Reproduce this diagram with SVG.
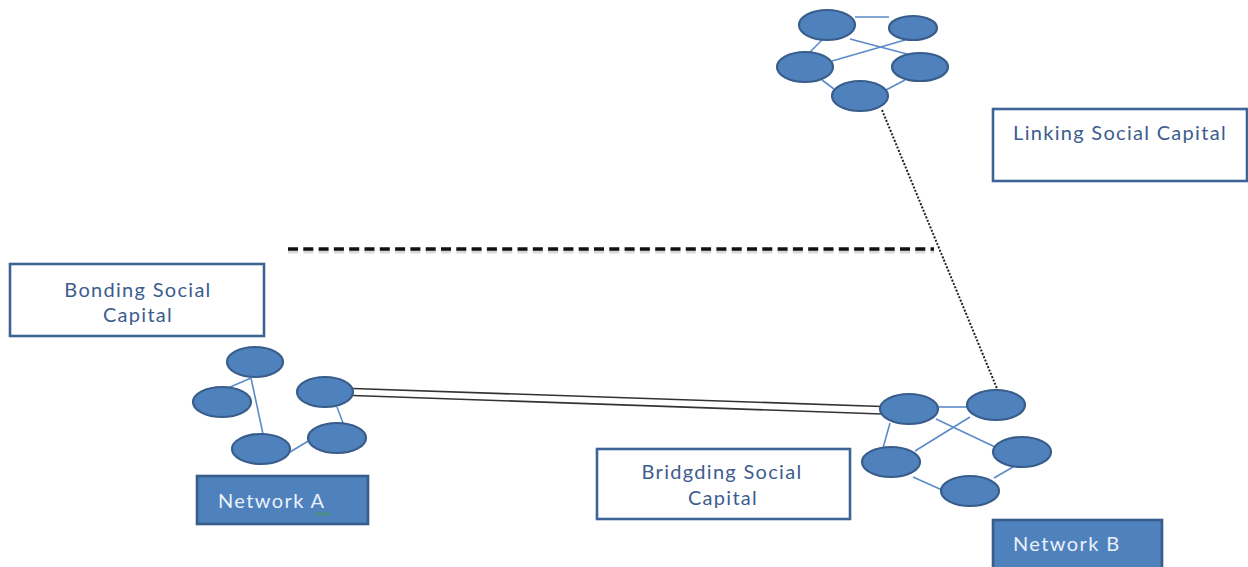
<svg xmlns="http://www.w3.org/2000/svg" width="1248" height="567" viewBox="0 0 1248 567">
<style>
.node{fill:#4F81BD;stroke:#385D8A;stroke-width:2.2}
.edge{stroke:#5B8BC9;stroke-width:1.6;fill:none}
.box{fill:#FFFFFF;stroke:#3E6496;stroke-width:2.6}
.nbox{fill:#4F81BD;stroke:#385D8A;stroke-width:2.6}
.lbl{font-family:Lato,"Open Sans",sans-serif;font-size:20px;letter-spacing:1.3px;fill:#3D5C8F}
.nlbl{font-family:Lato,"Open Sans",sans-serif;font-size:20px;letter-spacing:1.4px;fill:#EAF1F9}
</style>
<rect width="1248" height="567" fill="#FFFFFF"/>

<g id="connectors">
  <!-- horizontal dashed divider -->
  <line x1="288" y1="251.5" x2="934" y2="251.5" stroke="#000" stroke-opacity="0.15" stroke-width="4" stroke-dasharray="10 5.3"/>
  <line x1="288" y1="249" x2="934" y2="249" stroke="#111" stroke-width="3.5" stroke-dasharray="10 5.3"/>
  <!-- linking dotted line -->
  <line x1="882" y1="110" x2="998" y2="391" stroke="#222" stroke-width="2" stroke-dasharray="2 1.6"/>
  <!-- bridging double line -->
  <line x1="353" y1="388.5" x2="882" y2="406.5" stroke="#333" stroke-width="1.6"/>
  <line x1="353" y1="395.5" x2="882" y2="414" stroke="#333" stroke-width="1.6"/>
  <!-- network top edges -->
  <line class="edge" x1="855" y1="17" x2="889" y2="17"/>
  <line class="edge" x1="822" y1="40" x2="810" y2="52"/>
  <line class="edge" x1="850" y1="39" x2="907" y2="54"/>
  <line class="edge" x1="905" y1="40" x2="832" y2="61"/>
  <line class="edge" x1="822" y1="80" x2="834" y2="89"/>
  <line class="edge" x1="905" y1="80" x2="886" y2="90"/>
  <!-- network A edges -->
  <line class="edge" x1="251" y1="378" x2="228" y2="388"/>
  <line class="edge" x1="251" y1="378" x2="263" y2="434"/>
  <line class="edge" x1="337" y1="407" x2="343" y2="423"/>
  <line class="edge" x1="290" y1="452" x2="310" y2="440"/>
  <!-- network B edges -->
  <line class="edge" x1="938" y1="407" x2="967" y2="407"/>
  <line class="edge" x1="890" y1="423" x2="883" y2="448"/>
  <line class="edge" x1="936" y1="419" x2="995" y2="447"/>
  <line class="edge" x1="970" y1="417" x2="915" y2="451"/>
  <line class="edge" x1="913" y1="477" x2="942" y2="490"/>
  <line class="edge" x1="1013" y1="467" x2="994" y2="478"/>
</g>

<g id="top-network">
  <ellipse class="node" cx="827" cy="25" rx="28" ry="15"/>
  <ellipse class="node" cx="913" cy="28" rx="24" ry="12"/>
  <ellipse class="node" cx="805" cy="67" rx="28" ry="15"/>
  <ellipse class="node" cx="920" cy="67" rx="28" ry="14"/>
  <ellipse class="node" cx="860" cy="96" rx="28" ry="15"/>
</g>

<g id="network-a-nodes">
  <ellipse class="node" cx="255" cy="362" rx="28" ry="15"/>
  <ellipse class="node" cx="222" cy="402" rx="29" ry="15"/>
  <ellipse class="node" cx="325" cy="392" rx="28" ry="15"/>
  <ellipse class="node" cx="261" cy="449" rx="29" ry="15"/>
  <ellipse class="node" cx="337" cy="438" rx="29" ry="15"/>
</g>

<g id="network-b-nodes">
  <ellipse class="node" cx="909" cy="409" rx="29" ry="15"/>
  <ellipse class="node" cx="996" cy="405" rx="29" ry="15"/>
  <ellipse class="node" cx="1022" cy="452" rx="29" ry="15"/>
  <ellipse class="node" cx="891" cy="462" rx="29" ry="15"/>
  <ellipse class="node" cx="970" cy="491" rx="29" ry="15"/>
</g>

<g id="linking-box">
  <rect class="box" x="993" y="109" width="254" height="72"/>
  <text class="lbl" x="1120" y="140" text-anchor="middle">Linking Social Capital</text>
</g>

<g id="bonding-box">
  <rect class="box" x="10" y="264" width="254" height="72"/>
  <text class="lbl" x="138" y="297" text-anchor="middle">Bonding Social</text>
  <text class="lbl" x="138" y="322" text-anchor="middle">Capital</text>
</g>

<g id="bridging-box">
  <rect class="box" x="597" y="449" width="253" height="70"/>
  <text class="lbl" x="722" y="479" text-anchor="middle">Bridgding Social</text>
  <text class="lbl" x="723" y="505" text-anchor="middle">Capital</text>
</g>

<g id="network-a-label">
  <rect class="nbox" x="197" y="476" width="171" height="48"/>
  <text class="nlbl" x="218" y="508">Network A</text>
  <path d="M315 514 q1.5 -2 3 0 t3 0 t3 0 t3 0 t3 0" fill="none" stroke="#3CA03C" stroke-width="1.2"/>
</g>

<g id="network-b-label">
  <rect class="nbox" x="993" y="520" width="169" height="50"/>
  <text class="nlbl" x="1013" y="551">Network B</text>
</g>
</svg>
